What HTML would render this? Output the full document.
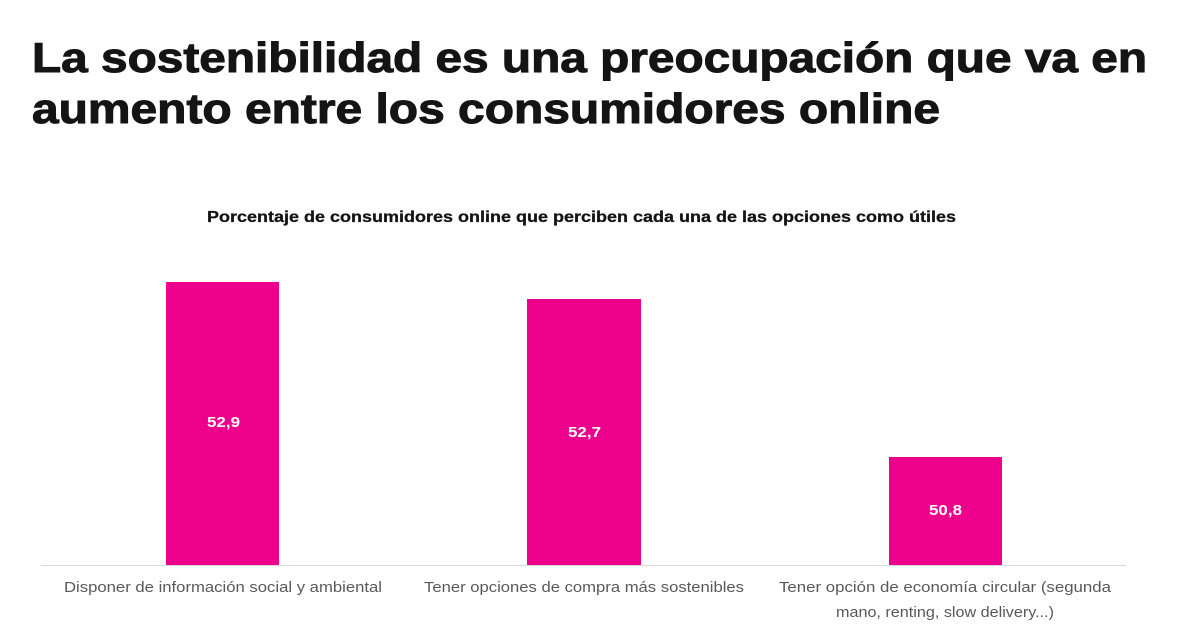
<!DOCTYPE html>
<html>
<head>
<meta charset="utf-8">
<style>
  html, body { margin: 0; padding: 0; background: #ffffff; }
  body { width: 1181px; height: 639px; overflow: hidden; }
  svg { display: block; }
  .title { font-family: "Liberation Sans", sans-serif; font-weight: bold; font-size: 42px; fill: #141414; stroke: #141414; stroke-width: 1px; }
  .sub { font-family: "Liberation Sans", sans-serif; font-weight: bold; font-size: 16px; fill: #141414; stroke: #141414; stroke-width: 0.3px; }
  .val { font-family: "Liberation Sans", sans-serif; font-weight: bold; font-size: 15px; fill: #ffffff; }
  .cat { font-family: "Liberation Sans", sans-serif; font-size: 14.5px; fill: #595959; }
</style>
</head>
<body>
<svg width="1181" height="639" viewBox="0 0 1181 639" xmlns="http://www.w3.org/2000/svg">
  <rect width="1181" height="639" fill="#ffffff"/>
  <text class="title" x="32" y="72" textLength="1115" lengthAdjust="spacingAndGlyphs">La sostenibilidad es una preocupación que va en</text>
  <text class="title" x="32" y="123" textLength="908" lengthAdjust="spacingAndGlyphs">aumento entre los consumidores online</text>

  <text class="sub" x="207" y="222" textLength="749" lengthAdjust="spacingAndGlyphs">Porcentaje de consumidores online que perciben cada una de las opciones como útiles</text>

  <rect x="166" y="282" width="113" height="283" fill="#ec008c"/>
  <rect x="527" y="299" width="114" height="266" fill="#ec008c"/>
  <rect x="889" y="457" width="113" height="108" fill="#ec008c"/>

  <line x1="41" y1="565.5" x2="1126" y2="565.5" stroke="#d9d9d9" stroke-width="1"/>

  <text class="val" x="207" y="427" textLength="33" lengthAdjust="spacingAndGlyphs">52,9</text>
  <text class="val" x="568" y="437" textLength="33" lengthAdjust="spacingAndGlyphs">52,7</text>
  <text class="val" x="929" y="515" textLength="33" lengthAdjust="spacingAndGlyphs">50,8</text>

  <text class="cat" x="64" y="592" textLength="318" lengthAdjust="spacingAndGlyphs">Disponer de información social y ambiental</text>
  <text class="cat" x="424" y="592" textLength="320" lengthAdjust="spacingAndGlyphs">Tener opciones de compra más sostenibles</text>
  <text class="cat" x="779" y="592" textLength="332" lengthAdjust="spacingAndGlyphs">Tener opción de economía circular (segunda</text>
  <text class="cat" x="836" y="617" textLength="218" lengthAdjust="spacingAndGlyphs">mano, renting, slow delivery...)</text>
</svg>
</body>
</html>
